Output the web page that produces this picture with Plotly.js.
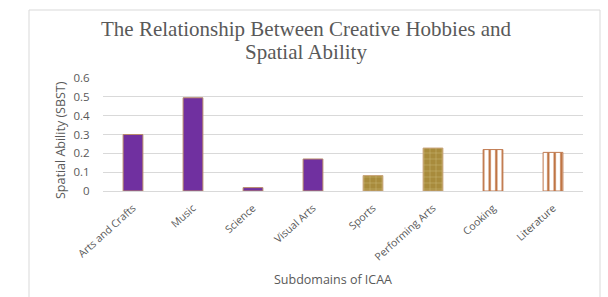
<!DOCTYPE html>
<html>
<head>
<meta charset="utf-8">
<script src="https://cdn.plot.ly/plotly-3.0.1.min.js"></script>
<style>html,body{margin:0;padding:0;background:#fff;}#chart{width:608px;height:297px;}</style>
</head>
<body>
<div id="chart"></div>
<script>
var categories = ["Arts and Crafts", "Music", "Science", "Visual Arts", "Sports", "Performing Arts", "Cooking", "Literature"];
var values = [0.30, 0.495, 0.018, 0.17, 0.082, 0.228, 0.22, 0.205];
var styleGroup = ["solid", "solid", "solid", "solid", "dotted", "dotted", "striped", "striped"];
var yTicks = [0, 0.1, 0.2, 0.3, 0.4, 0.5, 0.6];
var yTickLabels = ["0", "0.1", "0.2", "0.3", "0.4", "0.5", "0.6"];
var titleLines = ["The Relationship Between Creative Hobbies and", "Spatial Ability"];
var xTitle = "Subdomains of ICAA";
var yTitle = "Spatial Ability (SBST)";

var styles = {
  solid:   {color: "#7030A0", line: "#B98A6A", pattern: {shape: ""}},
  dotted:  {color: "#A88B3C", line: "#C9A57A", pattern: {shape: "+", fgcolor: "#D8C88C", size: 6, solidity: 0.12, fillmode: "overlay", fgopacity: 0.9}},
  striped: {color: "#FFFFFF", line: "#C07A50", pattern: {shape: "|", fgcolor: "#B8652F", size: 6.5, solidity: 0.32, fillmode: "overlay", fgopacity: 1}}
};

var traces = Object.keys(styles).map(function (g) {
  var xs = [], ys = [];
  categories.forEach(function (c, i) { if (styleGroup[i] === g) { xs.push(c); ys.push(values[i]); } });
  var s = styles[g];
  return {
    type: "bar", x: xs, y: ys, width: 0.33,
    marker: {color: s.color, line: {color: s.line, width: 1}, pattern: s.pattern},
    hoverinfo: "x+y"
  };
});

var gray = "#595959";
var sans = "Open Sans, Liberation Sans, sans-serif";
var serif = "Liberation Serif, Times New Roman, serif";
function px(p) { return (p - 103) / 480; }
function py(p) { return (191 - p) / 113; }

var layout = {
  width: 608, height: 297,
  margin: {l: 103, r: 25, t: 78, b: 106},
  paper_bgcolor: "#FFFFFF", plot_bgcolor: "#FFFFFF",
  showlegend: false,
  barmode: "overlay",
  xaxis: {
    type: "category", categoryorder: "array", categoryarray: categories,
    tickangle: -42,
    tickfont: {family: sans, size: 10.5, color: gray},
    showgrid: false, zeroline: false,
    showline: true, linecolor: "#D9D9D9", linewidth: 1,
    ticks: "outside", ticklen: 6, tickcolor: "rgba(0,0,0,0)", fixedrange: true
  },
  yaxis: {
    range: [0, 0.6],
    tickvals: yTicks, ticktext: yTickLabels,
    tickfont: {family: sans, size: 11.5, color: gray},
    showgrid: true, gridcolor: "#D9D9D9", gridwidth: 1,
    zeroline: false, showline: false, ticks: "outside", ticklen: 10, tickcolor: "rgba(0,0,0,0)",
    fixedrange: true
  },
  annotations: [
    {text: titleLines[0], xref: "paper", yref: "paper", x: px(306), y: py(29), xanchor: "center", yanchor: "middle", showarrow: false,
     font: {family: serif, size: 21, color: gray}},
    {text: titleLines[1], xref: "paper", yref: "paper", x: px(306), y: py(52), xanchor: "center", yanchor: "middle", showarrow: false,
     font: {family: serif, size: 21, color: gray}},
    {text: xTitle, xref: "paper", yref: "paper", x: px(333), y: py(279), xanchor: "center", yanchor: "middle", showarrow: false,
     font: {family: sans, size: 12.5, color: gray}},
    {text: yTitle, xref: "paper", yref: "paper", x: px(60), y: py(140), xanchor: "center", yanchor: "middle", showarrow: false, textangle: -90,
     font: {family: sans, size: 12.5, color: gray}}
  ],
  shapes: [{
    type: "rect", xref: "paper", yref: "paper",
    x0: px(29), x1: px(600),
    y0: py(305), y1: py(10),
    line: {color: "#D9D9D9", width: 1}, fillcolor: "rgba(0,0,0,0)", layer: "below"
  }]
};

Plotly.newPlot("chart", traces, layout, {displayModeBar: false, staticPlot: true});
</script>
</body>
</html>
